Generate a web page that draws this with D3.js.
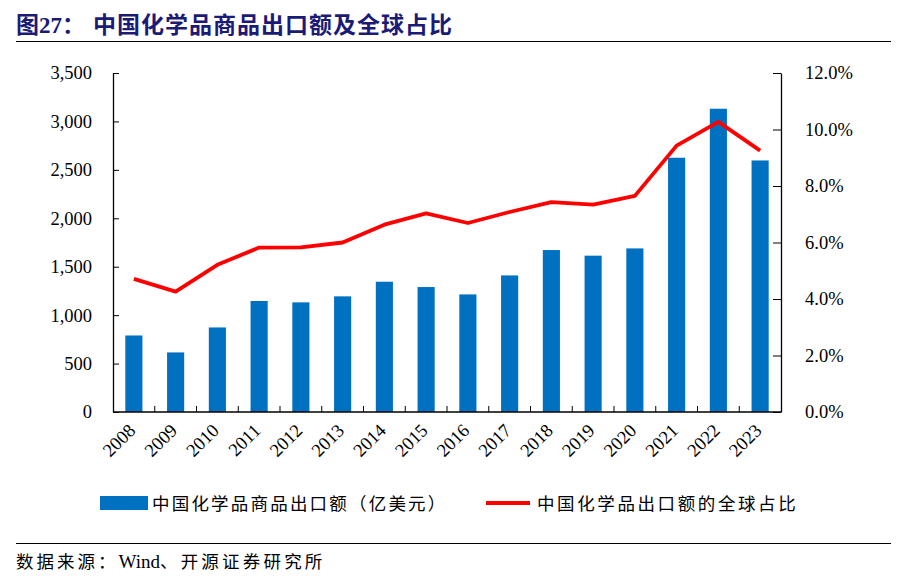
<!DOCTYPE html>
<html>
<head>
<meta charset="UTF-8">
<title>中国化学品商品出口额及全球占比</title>
<script src="https://d3js.org/d3.v7.min.js"></script>
<style>
  body { margin: 0; background: #fff; }
  svg text { font-family: "Liberation Serif", "Noto Sans CJK SC", serif; }
</style>
</head>
<body>
<svg id="chart"></svg>
<script>
// data
const years = ["2008","2009","2010","2011","2012","2013","2014","2015","2016","2017","2018","2019","2020","2021","2022","2023"];
const exportValue = [790, 615, 873, 1146, 1132, 1194, 1345, 1290, 1214, 1410, 1672, 1614, 1689, 2625, 3131, 2597];
const globalShare = [4.71, 4.26, 5.21, 5.82, 5.83, 6.0, 6.63, 7.03, 6.69, 7.08, 7.43, 7.34, 7.65, 9.43, 10.27, 9.25];
const leftTicks = [0, 500, 1000, 1500, 2000, 2500, 3000, 3500];
const rightTicks = [0, 2, 4, 6, 8, 10, 12];
const barLabel = "中国化学品商品出口额（亿美元）";
const lineLabel = "中国化学品出口额的全球占比";

const width = 910, height = 582;
const svg = d3.select("#chart").attr("width", width).attr("height", height);

const plotLeft = 113, plotRight = 781, plotTop = 73, plotBottom = 412;

const x = d3.scaleBand().domain(years).range([plotLeft, plotRight]).paddingInner(0.59).paddingOuter(0.295);
const xb = d3.scaleBand().domain(years).range([plotLeft, plotRight]);
const yL = d3.scaleLinear().domain([0, 3500]).range([plotBottom, plotTop]);
const yR = d3.scaleLinear().domain([0, 12]).range([plotBottom, plotTop]);

// title
const title = svg.append("text").attr("x", 16).attr("y", 33)
  .attr("fill", "#1b1b77").attr("font-size", 23).attr("font-weight", "bold");
title.append("tspan").text("图27：");
title.append("tspan").attr("x", 93).attr("letter-spacing", 1).text("中国化学品商品出口额及全球占比");
svg.append("line").attr("x1", 16).attr("x2", 891).attr("y1", 41.5).attr("y2", 41.5)
  .attr("stroke", "#000").attr("stroke-width", 1.2);

// bars
svg.append("g").selectAll("rect").data(exportValue).join("rect")
  .attr("x", (d, i) => x(years[i]))
  .attr("width", x.bandwidth())
  .attr("y", d => yL(d))
  .attr("height", d => plotBottom - yL(d))
  .attr("fill", "#0070c0");

// line
const line = d3.line()
  .x((d, i) => xb(years[i]) + xb.bandwidth() / 2)
  .y(d => yR(d));
svg.append("path").datum(globalShare)
  .attr("d", line).attr("fill", "none")
  .attr("stroke", "#ff0000").attr("stroke-width", 3.8)
  .attr("stroke-linejoin", "round");

// left axis
const gL = svg.append("g").attr("transform", `translate(${plotLeft},0)`)
  .call(d3.axisLeft(yL).tickValues(leftTicks).tickSizeInner(-6).tickSizeOuter(0).tickPadding(21)
    .tickFormat(d3.format(",")));
// right axis
const gR = svg.append("g").attr("transform", `translate(${plotRight},0)`)
  .call(d3.axisRight(yR).tickValues(rightTicks).tickSizeInner(-8).tickSizeOuter(0).tickPadding(24)
    .tickFormat(d => d.toFixed(1) + "%"));
[gL, gR].forEach(g => {
  g.select(".domain").attr("stroke", "#000").attr("stroke-width", 1.3);
  g.selectAll(".tick line").attr("stroke", "#000");
  g.selectAll("text").attr("font-size", 18.5).attr("fill", "#000")
    .attr("font-family", "Liberation Serif");
});

// x axis: ticks at category boundaries pointing up
const gx = svg.append("g");
gx.append("line").attr("x1", plotLeft).attr("x2", plotRight).attr("y1", plotBottom).attr("y2", plotBottom)
  .attr("stroke", "#000").attr("stroke-width", 1.3);
gx.selectAll("line.b").data(years.slice(1)).join("line").attr("class", "b")
  .attr("x1", d => xb(d)).attr("x2", d => xb(d))
  .attr("y1", plotBottom).attr("y2", plotBottom - 6).attr("stroke", "#000");
gx.selectAll("text").data(years).join("text")
  .attr("transform", d => `translate(${xb(d) + xb.bandwidth() / 2 - 2},${plotBottom + 15}) rotate(-45)`)
  .attr("text-anchor", "end").attr("dy", "0.35em")
  .attr("font-size", 18.5).attr("font-family", "Liberation Serif")
  .text(d => d);

// legend
const lg = svg.append("g");
lg.append("rect").attr("x", 100).attr("y", 496).attr("width", 48).attr("height", 14).attr("fill", "#0070c0");
lg.append("text").attr("x", 152).attr("y", 510).attr("font-size", 17.5).attr("letter-spacing", 2.2).text(barLabel);
lg.append("line").attr("x1", 486).attr("x2", 530).attr("y1", 503).attr("y2", 503)
  .attr("stroke", "#ff0000").attr("stroke-width", 4);
lg.append("text").attr("x", 537).attr("y", 510).attr("font-size", 17.5).attr("letter-spacing", 2.6).text(lineLabel);

// footer
svg.append("line").attr("x1", 16).attr("x2", 891).attr("y1", 543.5).attr("y2", 543.5)
  .attr("stroke", "#000").attr("stroke-width", 1.2);
const foot = svg.append("text").attr("x", 16).attr("y", 568).attr("font-size", 17.5);
foot.append("tspan").attr("letter-spacing", 3).text("数据来源：");
foot.append("tspan").attr("font-size", 19).text("Wind");
foot.append("tspan").attr("letter-spacing", 3.2).text("、开源证券研究所");
</script>
</body>
</html>
